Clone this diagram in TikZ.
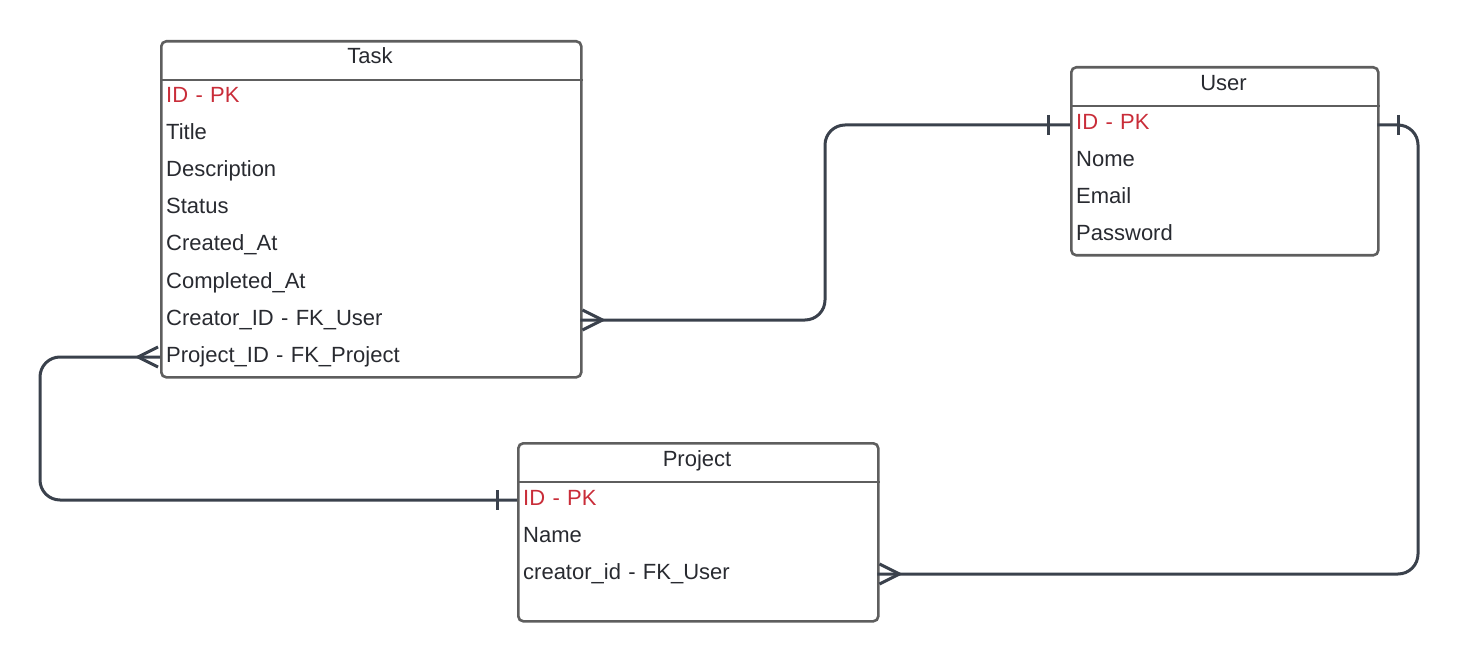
\documentclass[tikz,border=0pt]{standalone}
\usepackage{fontspec}
\setmainfont{Liberation Sans}
\usetikzlibrary{calc}
\definecolor{boxgray}{RGB}{94,94,94}
\definecolor{linkc}{RGB}{58,65,76}
\definecolor{txt}{RGB}{40,42,48}
\definecolor{pk}{RGB}{201,45,57}
\newcommand{\erfont}{\fontsize{22}{26}\selectfont}

\begin{document}
\begin{tikzpicture}[x=1pt,y=-1pt,
  entity/.style={draw=boxgray, line width=2.6pt, rounded corners=5pt, inner sep=0pt, anchor=north west},
  sep/.style={draw=boxgray, line width=2.6pt},
  title/.style={anchor=base, inner sep=0pt, text=txt, font=\erfont},
  row/.style={anchor=base west, inner xsep=6pt, inner ysep=0pt, text height=16pt, text depth=6pt, align=left, text=txt, font=\erfont},
  keyrow/.style={row, text=pk},
  link/.style={draw=linkc, line width=3pt},
  route/.style={link, rounded corners=20pt}]
\useasboundingbox (0,0) rectangle (1458,660);

% ---- Task ----
\node[entity, minimum width=420pt, minimum height=336pt] (task) at (160,40) {};
\draw[sep] ($(task.north west)+(0,40)$) -- ($(task.north east)+(0,40)$);
\node[title] (task-h) at (370,64) {Task};
\node[keyrow, text width=408pt] (t1) at (160,103) {ID - PK};
\foreach \f [count=\i from 2] in {Title,Description,Status,Created\_At,Completed\_At,Creator\_ID - FK\_User,Project\_ID - FK\_Project}
  \node[row, text width=408pt] (t\i) at (160,66+37*\i) {\f};

% ---- User ----
\node[entity, minimum width=307pt, minimum height=188pt] (user) at (1070,66) {};
\draw[sep] ($(user.north west)+(0,40)$) -- ($(user.north east)+(0,40)$);
\node[title] (user-h) at (1223.5,91) {User};
\node[keyrow, text width=295pt] (u1) at (1070,130) {ID - PK};
\foreach \f [count=\i from 2] in {Nome,Email,Password}
  \node[row, text width=295pt] (u\i) at (1070,93+37*\i) {\f};

% ---- Project ----
\node[entity, minimum width=360pt, minimum height=178pt] (proj) at (517,442) {};
\draw[sep] ($(proj.north west)+(0,40)$) -- ($(proj.north east)+(0,40)$);
\node[title] (proj-h) at (697,466) {Project};
\node[keyrow, text width=348pt] (p1) at (517,505) {ID - PK};
\foreach \f [count=\i from 2] in {Name,creator\_id - FK\_User}
  \node[row, text width=348pt] (p\i) at (517,468+37*\i) {\f};

% ---- routing columns ----
\coordinate (colA) at (825,0);
\coordinate (colB) at (40,0);
\coordinate (colC) at (1418,0);

% Task.Creator_ID  >--|  User.ID
\draw[route] (t7.east) -- (t7.east -| colA) -- (u1.west -| colA) -- (u1.west);
\draw[link] ($(t7.east)+(2,-10)$) -- ($(t7.east)+(22,0)$) -- ($(t7.east)+(2,10)$);
\draw[link] ($(u1.west)+(-22,-10)$) -- ($(u1.west)+(-22,10)$);

% Task.Project_ID  >--|  Project.ID
\draw[route] (t8.west) -- (t8.west -| colB) -- (p1.west -| colB) -- (p1.west);
\draw[link] ($(t8.west)+(-2,-10)$) -- ($(t8.west)+(-22,0)$) -- ($(t8.west)+(-2,10)$);
\draw[link] ($(p1.west)+(-20,-10)$) -- ($(p1.west)+(-20,10)$);

% User.ID  |--<  Project.creator_id
\draw[route] (u1.east) -- (u1.east -| colC) -- (p3.east -| colC) -- (p3.east);
\draw[link] ($(u1.east)+(21,-10)$) -- ($(u1.east)+(21,10)$);
\draw[link] ($(p3.east)+(2,-10)$) -- ($(p3.east)+(22,0)$) -- ($(p3.east)+(2,10)$);
\end{tikzpicture}
\end{document}
